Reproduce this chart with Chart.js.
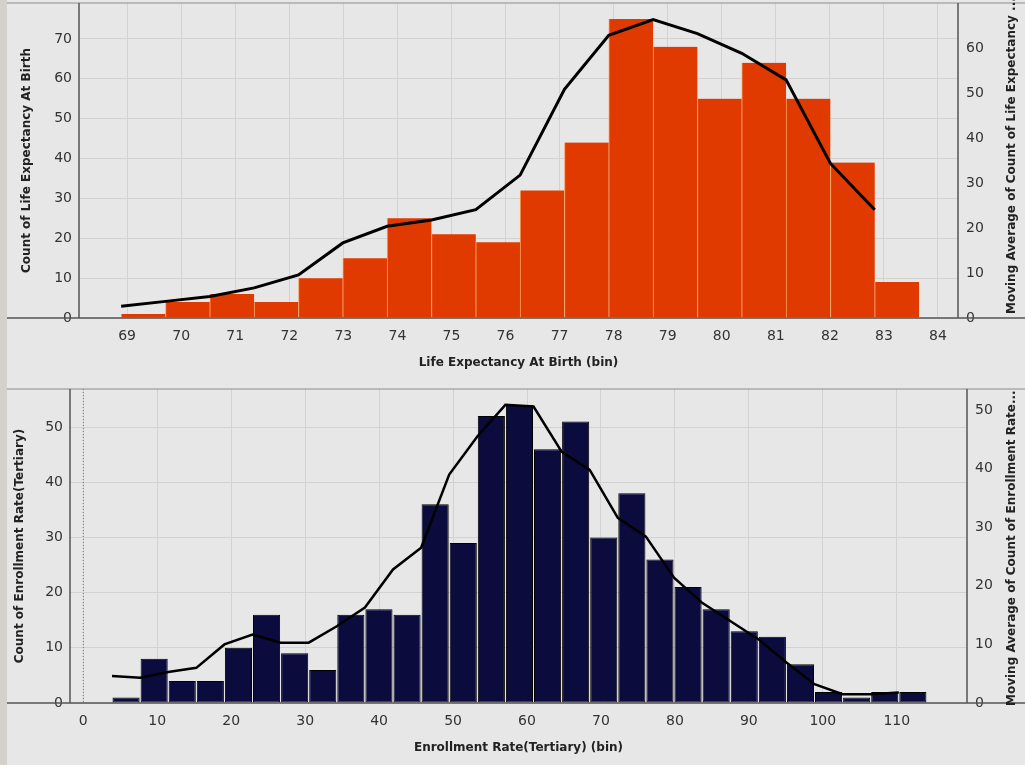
<!DOCTYPE html>
<html>
<head>
<meta charset="utf-8">
<script src="https://cdn.jsdelivr.net/npm/chart.js@4.4.1/dist/chart.umd.min.js"></script>
<style>
  html, body { margin: 0; padding: 0; background: #e7e7e7; }
  body { width: 1025px; height: 765px; position: relative; overflow: hidden; }
  #strip { position: absolute; left: 0; top: 0; width: 7px; height: 765px; background: #d3d1cc; }
  .box { position: absolute; left: 0; }
  #lifeBox { top: 0; }
  #enrollBox { top: 380px; }
</style>
</head>
<body>
<div id="strip"></div>
<div class="box" id="lifeBox"><canvas id="lifeChart" width="1025" height="380"></canvas></div>
<div class="box" id="enrollBox"><canvas id="enrollChart" width="1025" height="385"></canvas></div>
<script>
// Life expectancy histogram: bin starts, counts and moving average
const lifeBinStart = [68.89, 69.71, 70.53, 71.35, 72.17, 72.99, 73.81, 74.63, 75.45,
  76.27, 77.09, 77.91, 78.73, 79.55, 80.37, 81.19, 82.01, 82.83];
const lifeBinWidth = 0.82;
const lifeCounts = [1, 4, 6, 4, 10, 15, 25, 21, 19, 32, 44, 75, 68, 55, 64, 55, 39, 9];
const lifeMovingAvg = [2.6, 3.7, 4.8, 6.7, 9.6, 16.7, 20.4, 21.8, 24.1, 31.8, 50.9, 62.9,
  66.4, 63.3, 58.9, 53.0, 34.4, 24.1];
const lifeXTicks = [69, 70, 71, 72, 73, 74, 75, 76, 77, 78, 79, 80, 81, 82, 83, 84];
const lifeCountTicks = [0, 10, 20, 30, 40, 50, 60, 70];
const lifeAvgTicks = [0, 10, 20, 30, 40, 50, 60];

// Tertiary enrollment histogram
const enrollBinStart = [3.88, 7.68, 11.48, 15.28, 19.08, 22.88, 26.68, 30.48, 34.28, 38.08,
  41.88, 45.68, 49.48, 53.28, 57.08, 60.88, 64.68, 68.48, 72.28, 76.08, 79.88, 83.68,
  87.48, 91.28, 95.08, 98.88, 102.68, 106.48, 110.28];
const enrollBinWidth = 3.8;
const enrollCounts = [1, 8, 4, 4, 10, 16, 9, 6, 16, 17, 16, 36, 29, 52, 54, 46, 51, 30, 38,
  26, 21, 17, 13, 12, 7, 2, 1, 2, 2];
const enrollMovingAvg = [4.6, 4.3, 5.3, 6.0, 10.0, 11.7, 10.3, 10.3, 13.1, 16.3, 22.8, 26.5,
  39.0, 45.5, 50.9, 50.6, 42.9, 39.8, 31.6, 28.4, 21.4, 17.1, 14.0, 10.9, 6.9, 3.2, 1.5,
  1.5, 1.8];
const enrollXTicks = [0, 10, 20, 30, 40, 50, 60, 70, 80, 90, 100, 110];
const enrollCountTicks = [0, 10, 20, 30, 40, 50];
const enrollAvgTicks = [0, 10, 20, 30, 40, 50];

const FONT = "'DejaVu Sans', Verdana, sans-serif";
Chart.defaults.font.family = FONT;
Chart.defaults.color = "#333";

// Panel lines, right-hand title and optional dotted zero line
const framePlugin = {
  id: "frame",
  beforeDatasetsDraw(chart, args, opts) {
    if (!opts.zeroLine) return;
    const { ctx, chartArea: a } = chart;
    const x0 = chart.scales.x.getPixelForValue(0);
    ctx.save();
    ctx.strokeStyle = "#777";
    ctx.lineWidth = 1;
    ctx.setLineDash([1, 2]);
    ctx.beginPath();
    ctx.moveTo(x0, a.top);
    ctx.lineTo(x0, a.bottom);
    ctx.stroke();
    ctx.restore();
  },
  afterDraw(chart, args, opts) {
    const { ctx, chartArea: a, width } = chart;
    ctx.save();
    ctx.strokeStyle = "#8c8c8c";
    ctx.lineWidth = 1;
    ctx.beginPath();
    ctx.moveTo(7, a.top);
    ctx.lineTo(width, a.top);
    ctx.stroke();

    ctx.strokeStyle = "#555";
    ctx.lineWidth = 1.5;
    ctx.beginPath();
    ctx.moveTo(7, a.bottom);
    ctx.lineTo(width, a.bottom);
    ctx.moveTo(a.left, a.top);
    ctx.lineTo(a.left, a.bottom);
    ctx.moveTo(a.right, a.top);
    ctx.lineTo(a.right, a.bottom);
    ctx.stroke();

    // Right axis title reads bottom to top
    ctx.translate(opts.titleX, opts.titleY);
    ctx.rotate(-Math.PI / 2);
    ctx.font = "bold 12px " + FONT;
    ctx.fillStyle = "#222";
    ctx.textAlign = "left";
    ctx.textBaseline = "middle";
    ctx.fillText(opts.title, 0, 0);
    ctx.restore();
  }
};

function fixWidth(w) {
  return s => { s.width = w; s.paddingTop = 0; s.paddingBottom = 0; };
}

function useTicks(list) {
  return s => { s.ticks = list.map(v => ({ value: v })); };
}

function buildChart(id, cfg) {
  return new Chart(document.getElementById(id), {
    data: {
      datasets: [
        {
          type: "line",
          label: "Moving Average",
          data: cfg.binStart.map((x, i) => ({ x: x, y: cfg.avg[i] })),
          yAxisID: "yRight",
          borderColor: "#000",
          borderWidth: cfg.lineWidth,
          pointRadius: 0,
          tension: 0,
          order: 0
        },
        {
          type: "bar",
          label: "Count",
          data: cfg.binStart.map((x, i) => ({ x: x + cfg.binWidth / 2, y: cfg.counts[i] })),
          yAxisID: "y",
          backgroundColor: cfg.barColor,
          borderColor: cfg.barBorder,
          borderWidth: cfg.barBorderWidth,
          borderSkipped: false,
          barPercentage: cfg.barPct,
          categoryPercentage: 1,
          order: 1
        }
      ]
    },
    options: {
      responsive: false,
      animation: false,
      layout: { padding: { top: cfg.padTop, left: 0, right: 0, bottom: 0 } },
      plugins: {
        legend: { display: false },
        tooltip: { enabled: false },
        frame: { title: cfg.rightTitle, titleX: 1012, titleY: cfg.rightTitleY, zeroLine: cfg.zeroLine }
      },
      scales: {
        x: {
          type: "linear",
          offset: false,
          min: cfg.xMin,
          max: cfg.xMax,
          afterBuildTicks: useTicks(cfg.xTicks),
          afterFit: s => { s.height = cfg.xHeight; },
          grid: { color: "#d2d2d2", drawTicks: false, offset: false },
          border: { display: false },
          ticks: { font: { size: 14 }, color: "#333", padding: 10, autoSkip: false, maxRotation: 0 },
          title: {
            display: true,
            text: cfg.xTitle,
            font: { size: 12, weight: "bold" },
            color: "#222",
            padding: { top: 4, bottom: 10 }
          }
        },
        y: {
          position: "left",
          min: 0,
          max: cfg.yMax,
          afterBuildTicks: useTicks(cfg.yTicks),
          afterFit: fixWidth(cfg.leftWidth),
          grid: { color: "#d2d2d2", drawTicks: false },
          border: { display: false },
          ticks: { font: { size: 14 }, color: "#333", padding: 7 },
          title: {
            display: true,
            text: cfg.yTitle,
            font: { size: 12, weight: "bold" },
            color: "#222",
            padding: { top: cfg.yTitlePad, bottom: 0 }
          }
        },
        yRight: {
          position: "right",
          min: 0,
          max: cfg.y2Max,
          afterBuildTicks: useTicks(cfg.y2Ticks),
          afterFit: fixWidth(cfg.rightWidth),
          grid: { display: false, drawTicks: false },
          border: { display: false },
          ticks: { font: { size: 14 }, color: "#333", padding: 8 }
        }
      }
    },
    plugins: [framePlugin]
  });
}

buildChart("lifeChart", {
  binStart: lifeBinStart,
  binWidth: lifeBinWidth,
  counts: lifeCounts,
  avg: lifeMovingAvg,
  xTicks: lifeXTicks,
  yTicks: lifeCountTicks,
  y2Ticks: lifeAvgTicks,
  xMin: 68.11,
  xMax: 84.37,
  yMax: 79,
  y2Max: 70.1,
  padTop: 3,
  xHeight: 62,
  leftWidth: 79,
  rightWidth: 67,
  yTitlePad: 20,
  lineWidth: 3,
  barColor: "#e13a00",
  barBorder: "#f6a15e",
  barBorderWidth: { left: 1, right: 0, top: 0, bottom: 0 },
  barPct: 1,
  xTitle: "Life Expectancy At Birth (bin)",
  yTitle: "Count of Life Expectancy At Birth",
  rightTitle: "Moving Average of Count of Life Expectancy ...",
  rightTitleY: 314,
  zeroLine: false
});

buildChart("enrollChart", {
  binStart: enrollBinStart,
  binWidth: enrollBinWidth,
  counts: enrollCounts,
  avg: enrollMovingAvg,
  xTicks: enrollXTicks,
  yTicks: enrollCountTicks,
  y2Ticks: enrollAvgTicks,
  xMin: -1.8,
  xMax: 119.5,
  yMax: 56.9,
  y2Max: 53.6,
  padTop: 9,
  xHeight: 62,
  leftWidth: 70,
  rightWidth: 58,
  yTitlePad: 13,
  lineWidth: 2.5,
  barColor: "#0b0b3e",
  barBorder: "#000",
  barBorderWidth: 1,
  barPct: 0.965,
  xTitle: "Enrollment Rate(Tertiary) (bin)",
  yTitle: "Count of Enrollment Rate(Tertiary)",
  rightTitle: "Moving Average of Count of Enrollment Rate...",
  rightTitleY: 326,
  zeroLine: true
});
</script>
</body>
</html>
